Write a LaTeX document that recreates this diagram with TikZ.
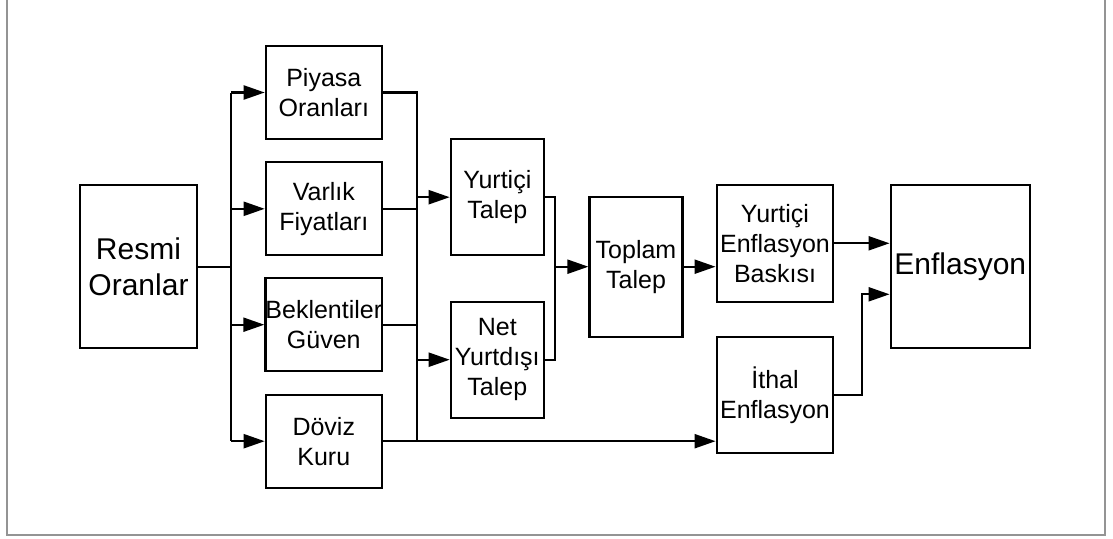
\documentclass[tikz,border=0pt]{standalone}
\usepackage{fontspec}
\setmainfont{Liberation Sans}
\usetikzlibrary{arrows.meta}
\begin{document}
\begin{tikzpicture}[x=1pt,y=-1pt,
  box/.style={draw=black,line width=2.2pt,inner sep=0pt,align=center,
    font=\fontsize{25}{30}\selectfont},
  bigbox/.style={box,font=\fontsize{30}{36}\selectfont},
  conn/.style={line width=2.2pt,draw=black},
  arr/.style={conn,-{Triangle[length=21pt,width=14pt]}}]
\useasboundingbox (0,0) rectangle (1113,538);
\draw[line width=2pt,draw=black!42] (7,-5) -- (7,535) -- (1105,535) -- (1105,-5);

\node[bigbox,minimum width=117pt,minimum height=163pt] (R) at (138.5,266.7) {Resmi\\Oranlar};
\node[box,minimum width=116pt,minimum height=93pt] (P) at (323.8,92.5) {Piyasa\\Oranları};
\node[box,minimum width=116pt,minimum height=93pt] (V) at (323.8,208.8) {Varlık\\Fiyatları};
\node[box,minimum width=116pt,minimum height=93pt] (B) at (323.8,324.7) {Beklentiler\\Güven};
\node[box,minimum width=116pt,minimum height=93pt] (D) at (323.8,441.2) {Döviz\\Kuru};
\node[box,minimum width=93pt,minimum height=116pt] (YT) at (497.3,197.2) {Yurtiçi\\Talep};
\node[box,minimum width=93pt,minimum height=116pt] (NT) at (497.3,359.7) {Net\\Yurtdışı\\Talep};
\node[box,minimum width=93pt,minimum height=140pt] (TT) at (636,266.7) {Toplam\\Talep};
\node[box,minimum width=116.7pt,minimum height=116.7pt] (YE) at (775,243.3) {Yurtiçi\\Enflasyon\\Baskısı};
\node[box,minimum width=116.7pt,minimum height=116.7pt] (IE) at (775,395) {İthal\\Enflasyon};
\node[bigbox,minimum width=139.3pt,minimum height=163pt] (E) at (960.3,266.7) {Enflasyon};

% left fan-out
\coordinate (b1) at (231,266.7);
\draw[conn] (R.east) -- (b1);
\draw[conn] (b1 |- P.west) -- (b1 |- D.west);
\draw[arr] (b1 |- P.west) -- (P.west);
\draw[arr] (b1 |- V.west) -- (V.west);
\draw[arr] (b1 |- B.west) -- (B.west);
\draw[arr] (b1 |- D.west) -- (D.west);

% right bus
\coordinate (bus) at (416.7,441.2);
\draw[conn] (P.east) -| (bus);
\draw[conn] (V.east) -- (V.east -| bus);
\draw[conn] (B.east) -- (B.east -| bus);
\draw[arr] (D.east) -- (D.east -| IE.west);
\draw[arr] (bus |- YT.west) -- (YT.west);
\draw[arr] (bus |- NT.west) -- (NT.west);

% merge into Toplam Talep
\coordinate (m) at (555,266.7);
\draw[conn] (YT.east) -| (m);
\draw[conn] (NT.east) -| (m);
\draw[arr] (m) -- (TT.west);
\draw[arr] (TT.east) -- (TT.east -| YE.west);
\draw[arr] (YE.east) -- (YE.east -| E.west);

\coordinate (j) at (862.3,294.3);
\draw[arr] (IE.east) -| (j) -- (j -| E.west);
\end{tikzpicture}
\end{document}
